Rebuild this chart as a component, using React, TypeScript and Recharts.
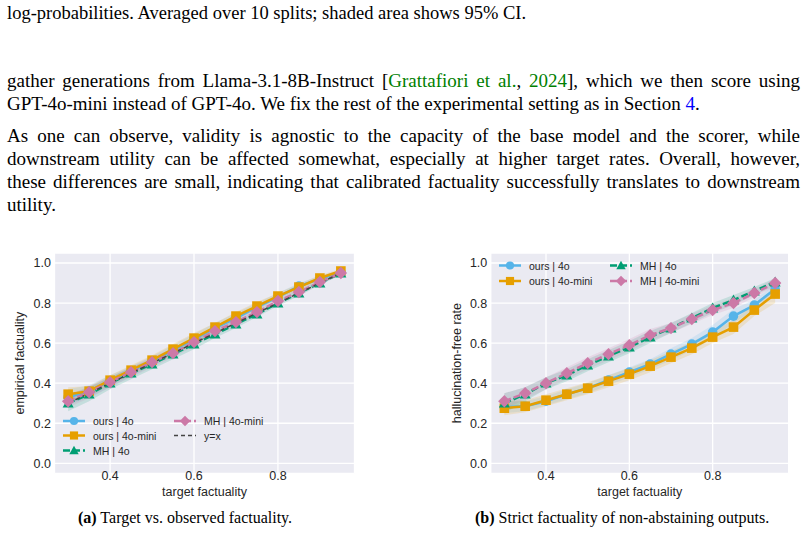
import React from 'react';
import { ComposedChart, Line, Area, XAxis, YAxis, CartesianGrid, Legend } from 'recharts';

// target factuality levels (x axis of both panels)
const targets = [0.3, 0.35, 0.4, 0.45, 0.5, 0.55, 0.6, 0.65, 0.7, 0.75, 0.8, 0.85, 0.9, 0.95];
const xTicks = [0.4, 0.6, 0.8];
const yTicks = [0, 0.2, 0.4, 0.6, 0.8, 1.0];

// (a) empirical factuality
const aOurs4o = [0.33, 0.36, 0.41, 0.46, 0.51, 0.565, 0.62, 0.675, 0.725, 0.78, 0.83, 0.885, 0.92, 0.955];
const aOurs4oLo = [0.29, 0.33, 0.38, 0.435, 0.485, 0.54, 0.595, 0.65, 0.705, 0.76, 0.81, 0.865, 0.905, 0.945];
const aOurs4oHi = [0.37, 0.39, 0.44, 0.485, 0.535, 0.59, 0.645, 0.7, 0.75, 0.8, 0.85, 0.9, 0.935, 0.965];
const aOursMini = [0.345, 0.36, 0.415, 0.465, 0.515, 0.57, 0.625, 0.68, 0.735, 0.785, 0.835, 0.88, 0.925, 0.96];
const aOursMiniLo = [0.31, 0.335, 0.39, 0.44, 0.49, 0.545, 0.6, 0.66, 0.715, 0.765, 0.82, 0.865, 0.91, 0.95];
const aOursMiniHi = [0.38, 0.385, 0.44, 0.49, 0.54, 0.595, 0.65, 0.7, 0.755, 0.805, 0.85, 0.895, 0.94, 0.97];
const aMh4o = [0.3, 0.345, 0.4, 0.45, 0.495, 0.545, 0.595, 0.645, 0.695, 0.745, 0.8, 0.85, 0.9, 0.95];
const aMh4oLo = [0.26, 0.31, 0.37, 0.42, 0.47, 0.52, 0.57, 0.625, 0.675, 0.73, 0.785, 0.835, 0.89, 0.94];
const aMh4oHi = [0.34, 0.38, 0.43, 0.48, 0.52, 0.57, 0.62, 0.665, 0.715, 0.76, 0.815, 0.865, 0.91, 0.96];
const aMhMini = [0.31, 0.355, 0.405, 0.455, 0.505, 0.55, 0.605, 0.66, 0.705, 0.755, 0.81, 0.855, 0.905, 0.95];
const aMhMiniLo = [0.28, 0.325, 0.38, 0.43, 0.48, 0.53, 0.585, 0.64, 0.685, 0.74, 0.795, 0.84, 0.895, 0.94];
const aMhMiniHi = [0.34, 0.385, 0.43, 0.48, 0.53, 0.575, 0.625, 0.68, 0.725, 0.77, 0.825, 0.87, 0.915, 0.96];

// (b) hallucination-free rate
const bOurs4o = [0.28, 0.285, 0.31, 0.345, 0.375, 0.415, 0.455, 0.495, 0.545, 0.595, 0.655, 0.735, 0.79, 0.87];
const bOurs4oLo = [0.25, 0.26, 0.29, 0.32, 0.35, 0.39, 0.43, 0.47, 0.515, 0.565, 0.62, 0.7, 0.765, 0.845];
const bOurs4oHi = [0.31, 0.31, 0.335, 0.37, 0.4, 0.44, 0.48, 0.52, 0.575, 0.625, 0.69, 0.77, 0.815, 0.895];
const bOursMini = [0.275, 0.285, 0.315, 0.345, 0.375, 0.41, 0.445, 0.485, 0.53, 0.575, 0.63, 0.68, 0.765, 0.845];
const bOursMiniLo = [0.24, 0.255, 0.285, 0.315, 0.345, 0.38, 0.415, 0.455, 0.5, 0.545, 0.6, 0.645, 0.735, 0.8];
const bOursMiniHi = [0.31, 0.315, 0.345, 0.375, 0.405, 0.44, 0.475, 0.515, 0.56, 0.605, 0.66, 0.715, 0.795, 0.88];
const bMh4o = [0.3, 0.345, 0.4, 0.44, 0.49, 0.535, 0.58, 0.63, 0.675, 0.725, 0.775, 0.815, 0.86, 0.905];
const bMh4oLo = [0.25, 0.31, 0.37, 0.41, 0.46, 0.505, 0.55, 0.6, 0.65, 0.7, 0.75, 0.79, 0.84, 0.885];
const bMh4oHi = [0.35, 0.38, 0.43, 0.47, 0.52, 0.565, 0.61, 0.66, 0.7, 0.75, 0.8, 0.84, 0.88, 0.925];
const bMhMini = [0.31, 0.35, 0.4, 0.45, 0.5, 0.545, 0.59, 0.64, 0.675, 0.72, 0.765, 0.8, 0.85, 0.9];
const bMhMiniLo = [0.27, 0.32, 0.37, 0.42, 0.47, 0.515, 0.56, 0.61, 0.65, 0.695, 0.74, 0.775, 0.83, 0.88];
const bMhMiniHi = [0.35, 0.38, 0.43, 0.48, 0.53, 0.575, 0.62, 0.67, 0.7, 0.745, 0.79, 0.825, 0.87, 0.92];

const SERIES = [
  { key: 'ours4o', name: 'ours | 4o', color: '#56B4E9', shape: 'circle', dashed: false },
  { key: 'oursMini', name: 'ours | 4o-mini', color: '#E69F00', shape: 'square', dashed: false },
  { key: 'mh4o', name: 'MH | 4o', color: '#009E73', shape: 'triangle', dashed: true },
  { key: 'mhMini', name: 'MH | 4o-mini', color: '#CC79A7', shape: 'diamond', dashed: true },
];

const rowsA = targets.map((x, i) => ({
  x,
  ours4o: aOurs4o[i], ours4oBand: [aOurs4oLo[i], aOurs4oHi[i]],
  oursMini: aOursMini[i], oursMiniBand: [aOursMiniLo[i], aOursMiniHi[i]],
  mh4o: aMh4o[i], mh4oBand: [aMh4oLo[i], aMh4oHi[i]],
  mhMini: aMhMini[i], mhMiniBand: [aMhMiniLo[i], aMhMiniHi[i]],
}));

const rowsB = targets.map((x, i) => ({
  x,
  ours4o: bOurs4o[i], ours4oBand: [bOurs4oLo[i], bOurs4oHi[i]],
  oursMini: bOursMini[i], oursMiniBand: [bOursMiniLo[i], bOursMiniHi[i]],
  mh4o: bMh4o[i], mh4oBand: [bMh4oLo[i], bMh4oHi[i]],
  mhMini: bMhMini[i], mhMiniBand: [bMhMiniLo[i], bMhMiniHi[i]],
}));

const SANS = '"Liberation Sans", Arial, sans-serif';
const SERIF = '"Liberation Serif", "Times New Roman", serif';
const INK = '#262626';

function Marker({ shape, cx, cy, color, s = 1 }: any) {
  if (cx == null || cy == null) return null;
  if (shape === 'circle') return <circle cx={cx} cy={cy} r={4.8 * s} fill={color} />;
  if (shape === 'square') {
    const h = 4.8 * s;
    return <rect x={cx - h} y={cy - h} width={2 * h} height={2 * h} fill={color} />;
  }
  if (shape === 'triangle') {
    const h = 5.5 * s;
    return <polygon points={`${cx},${cy - h} ${cx + h},${cy + h * 0.8} ${cx - h},${cy + h * 0.8}`} fill={color} />;
  }
  const h = 6.2 * s;
  return <polygon points={`${cx},${cy - h} ${cx + h},${cy} ${cx},${cy + h} ${cx - h},${cy}`} fill={color} />;
}

function YTitle({ viewBox, value, dx }: any) {
  const x = viewBox.x + dx;
  const y = viewBox.y + viewBox.height / 2;
  return (
    <text x={x} y={y} transform={`rotate(-90 ${x} ${y})`} textAnchor="middle" dominantBaseline="central"
      fontFamily={SANS} fontSize={12.5} fill={INK}>{value}</text>
  );
}

function XTitle({ viewBox, value }: any) {
  return (
    <text x={viewBox.x + viewBox.width / 2} y={viewBox.y + 22.5} textAnchor="middle"
      fontFamily={SANS} fontSize={12.5} fill={INK}>{value}</text>
  );
}

type LegendItem = { name: string; color: string; shape?: string; dashed: boolean; plain?: boolean; x: number; y: number };

function LegendSvg({ items, w, h }: { items: LegendItem[]; w: number; h: number }) {
  return (
    <svg width={w} height={h} style={{ overflow: 'visible' }}>
      {items.map((it) => (
        <g key={it.name}>
          <line x1={it.x} x2={it.x + 22} y1={it.y} y2={it.y} stroke={it.color}
            strokeWidth={it.plain ? 1.5 : 2.5} strokeDasharray={it.dashed ? (it.plain ? '4 3' : '7 3') : undefined} />
          {it.shape && <Marker shape={it.shape} cx={it.x + 11} cy={it.y} color={it.color} s={0.85} />}
          <text x={it.x + 30} y={it.y} dominantBaseline="central" fontFamily={SANS} fontSize={10.5} fill={INK}>{it.name}</text>
        </g>
      ))}
    </svg>
  );
}

function Panel({ rows, yLabel, legend, width, height, margin, yTitleDx, withDiagonal }: any) {
  return (
    <ComposedChart width={width} height={height} data={rows} margin={margin}>
      <CartesianGrid fill="#EAEAF2" stroke="#FFFFFF" strokeWidth={1.3} />
      <XAxis type="number" dataKey="x" domain={[0.2675, 0.9825]} ticks={xTicks} allowDataOverflow
        tickFormatter={(v: number) => v.toFixed(1)} axisLine={false} tickLine={false} tickSize={0} tickMargin={-2.5}
        height={30} tick={{ fontFamily: SANS, fontSize: 12.5, fill: INK }}
        label={<XTitle value="target factuality" />} />
      <YAxis type="number" domain={[-0.05, 1.05]} ticks={yTicks} allowDataOverflow
        tickFormatter={(v: number) => v.toFixed(1)} axisLine={false} tickLine={false} tickSize={0} tickMargin={3.5}
        width={40} tick={{ fontFamily: SANS, fontSize: 12.5, fill: INK }}
        label={<YTitle value={yLabel} dx={yTitleDx} />} />
      {SERIES.map((s) => (
        <Area key={s.key + 'Band'} type="linear" dataKey={s.key + 'Band'} stroke="none" fill={s.color}
          fillOpacity={0.16} dot={false} activeDot={false} isAnimationActive={false} />
      ))}
      {SERIES.map((s) => (
        <Line key={s.key} type="linear" dataKey={s.key} name={s.name} stroke={s.color} strokeWidth={2.5}
          strokeDasharray={s.dashed ? '7 3' : undefined} activeDot={false} isAnimationActive={false}
          dot={(p: any) => <Marker key={`${s.key}-${p.index}`} shape={s.shape} cx={p.cx} cy={p.cy} color={s.color} />} />
      ))}
      {withDiagonal && (
        <Line type="linear" dataKey="x" name="y=x" stroke="#444444" strokeWidth={1.5} strokeDasharray="5 3"
          dot={false} activeDot={false} isAnimationActive={false} />
      )}
      <Legend verticalAlign="middle" align="center" layout="horizontal"
        wrapperStyle={{ position: 'absolute', left: 0, top: 0, width, height, pointerEvents: 'none' }}
        content={() => <LegendSvg items={legend} w={width} h={height} />} />
    </ComposedChart>
  );
}

const legendA: LegendItem[] = [
  { ...SERIES[0], x: 63, y: 181 },
  { ...SERIES[1], x: 63, y: 195.5 },
  { ...SERIES[2], x: 63, y: 210.5 },
  { ...SERIES[3], x: 174, y: 181 },
  { name: 'y=x', color: '#444444', dashed: true, plain: true, x: 174, y: 195.5 },
];

const legendB: LegendItem[] = [
  { ...SERIES[0], x: 59, y: 25.5 },
  { ...SERIES[1], x: 59, y: 41 },
  { ...SERIES[2], x: 170, y: 25.5 },
  { ...SERIES[3], x: 170, y: 41 },
];

const lineStyle: React.CSSProperties = {
  position: 'absolute', left: 7, width: 793, fontFamily: SERIF, fontSize: 19, lineHeight: '23px',
  color: '#000', whiteSpace: 'nowrap',
};
const justified: React.CSSProperties = { ...lineStyle, textAlign: 'justify', textAlignLast: 'justify', whiteSpace: 'normal' };
const subCaption: React.CSSProperties = {
  position: 'absolute', top: 508, fontFamily: SERIF, fontSize: 16, lineHeight: '20px', whiteSpace: 'nowrap', color: '#000',
};

export default function App() {
  return (
    <div style={{ position: 'absolute', left: 0, top: 0, width: 807, height: 534, background: '#fff', overflow: 'hidden' }}>
      <div style={{ ...lineStyle, top: 2, fontSize: 18.5, lineHeight: '22px' }}>
        log-probabilities. Averaged over 10 splits; shaded area shows 95% CI.
      </div>

      <div style={{ ...justified, top: 69 }}>
        gather generations from Llama-3.1-8B-Instruct [<span style={{ color: '#008000' }}>Grattafiori et al.</span>, <span style={{ color: '#008000' }}>2024</span>], which we then score using
      </div>
      <div style={{ ...lineStyle, top: 92 }}>
        GPT-4o-mini instead of GPT-4o. We fix the rest of the experimental setting as in Section <span style={{ color: '#0000FF' }}>4</span>.
      </div>

      <div style={{ ...justified, top: 124 }}>
        As one can observe, validity is agnostic to the capacity of the base model and the scorer, while
      </div>
      <div style={{ ...justified, top: 147 }}>
        downstream utility can be affected somewhat, especially at higher target rates. Overall, however,
      </div>
      <div style={{ ...justified, top: 170 }}>
        these differences are small, indicating that calibrated factuality successfully translates to downstream
      </div>
      <div style={{ ...lineStyle, top: 193 }}>utility.</div>

      <div style={{ position: 'absolute', left: 0, top: 240 }}>
        <Panel rows={rowsA} yLabel="empirical factuality" legend={legendA} width={380} height={270}
          margin={{ top: 13, right: 25.5, bottom: 6.7, left: 14.5 }} yTitleDx={5.5} withDiagonal />
      </div>
      <div style={{ position: 'absolute', left: 440, top: 240 }}>
        <Panel rows={rowsB} yLabel="hallucination-free rate" legend={legendB} width={360} height={270}
          margin={{ top: 13, right: 11.3, bottom: 6.7, left: 10.8 }} yTitleDx={6} withDiagonal={false} />
      </div>

      <div style={{ ...subCaption, left: 78 }}>
        <b>(a)</b> Target vs. observed factuality.
      </div>
      <div style={{ ...subCaption, left: 475 }}>
        <b>(b)</b> Strict factuality of non-abstaining outputs.
      </div>
    </div>
  );
}
